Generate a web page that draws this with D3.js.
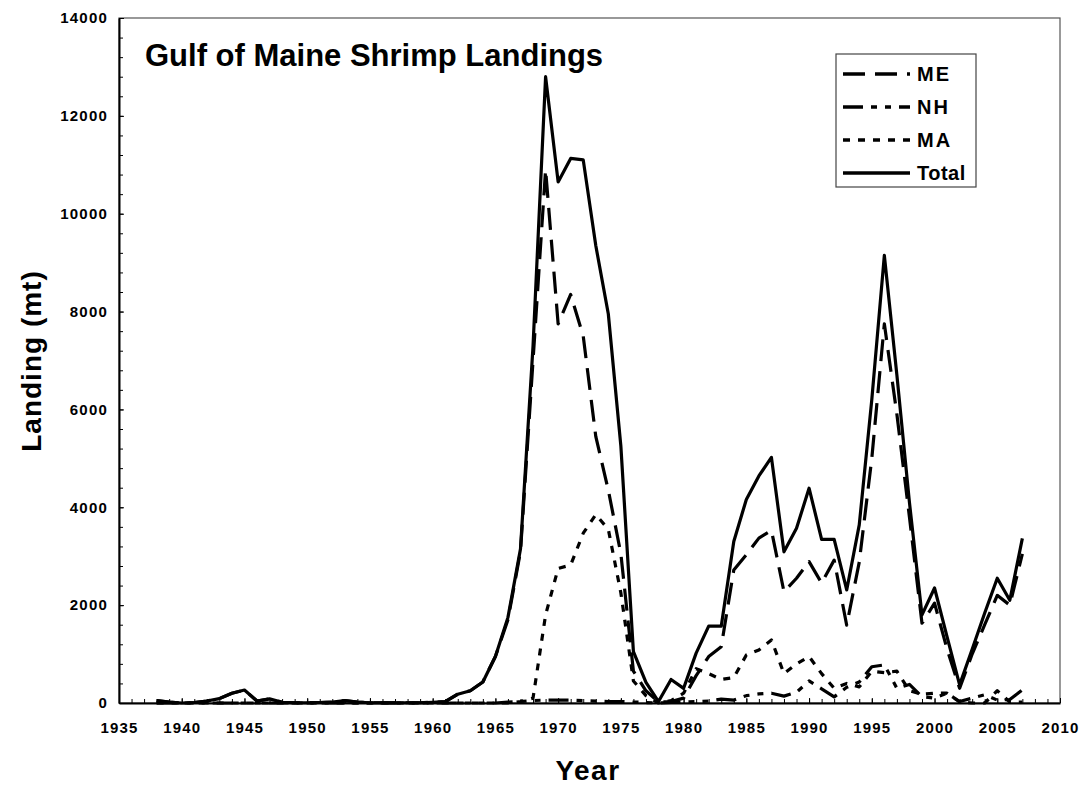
<!DOCTYPE html>
<html>
<head>
<meta charset="utf-8">
<script src="https://cdn.jsdelivr.net/npm/d3@7"></script>
<style>
  body { margin: 0; background: #fff; }
  svg { display: block; font-family: "Liberation Sans", Arial, sans-serif; }
</style>
</head>
<body>
<div id="chart"></div>
<script>
// landings in metric tons, 1938-2007
var years = [1938, 1939, 1940, 1941, 1942, 1943, 1944, 1945, 1946, 1947,
             1948, 1949, 1950, 1951, 1952, 1953, 1954, 1955, 1956, 1957,
             1958, 1959, 1960, 1961, 1962, 1963, 1964, 1965, 1966, 1967,
             1968, 1969, 1970, 1971, 1972, 1973, 1974, 1975, 1976, 1977,
             1978, 1979, 1980, 1981, 1982, 1983, 1984, 1985, 1986, 1987,
             1988, 1989, 1990, 1991, 1992, 1993, 1994, 1995, 1996, 1997,
             1998, 1999, 2000, 2001, 2002, 2003, 2004, 2005, 2006, 2007];

var me = [50, 20, 0, 10, 40, 90, 200, 265, 40, 85,
          15, 5, 5, 10, 20, 50, 20, 5, 5, 5,
          5, 5, 15, 30, 180, 250, 430, 950, 1700, 3100,
          7000, 10900, 7750, 8350, 7500, 5450, 4350, 3050, 650, 250,
          20, 30, 100, 560, 950, 1150, 2720, 3030, 3370, 3530,
          2275, 2550, 2890, 2450, 2920, 1590, 2880, 5000, 7750, 5900,
          3800, 1630, 2040, 1100, 300, 1000, 1600, 2200, 2000, 3050];

var nh = [0, 0, 0, 0, 0, 0, 0, 0, 0, 0,
          0, 0, 0, 0, 0, 0, 0, 0, 0, 0,
          0, 0, 0, 0, 0, 0, 0, 0, 20, 30,
          50, 60, 60, 60, 50, 40, 30, 30, 20, 10,
          0, 10, 20, 30, 40, 80, 60, 150, 185, 200,
          140, 220, 450, 290, 125, 320, 430, 740, 780, 300,
          380, 130, 100, 200, 30, 100, 170, 60, 70, 270];

var ma = [0, 0, 0, 0, 0, 0, 0, 0, 0, 0,
          0, 0, 0, 0, 0, 0, 0, 0, 0, 0,
          0, 0, 0, 0, 0, 0, 0, 0, 0, 30,
          100, 1800, 2750, 2820, 3470, 3850, 3550, 2250, 450, 150,
          0, 50, 200, 700, 600, 480, 520, 980, 1085, 1290,
          600, 800, 950, 600, 300, 400, 330, 650, 620, 650,
          250, 180, 200, 200, 20, 0, 0, 250, 20, 20];

var total = [50, 20, 0, 10, 40, 90, 200, 265, 40, 85,
             15, 5, 5, 10, 20, 50, 20, 5, 5, 5,
             5, 5, 15, 30, 180, 250, 430, 950, 1750, 3150,
             7300, 12800, 10650, 11130, 11100, 9350, 7950, 5250, 1050, 420,
             30, 480, 300, 1020, 1570, 1570, 3300, 4160, 4640, 5020,
             3090, 3570, 4390, 3345, 3345, 2310, 3640, 6200, 9150, 6700,
             4100, 1800, 2350, 1350, 370, 1100, 1840, 2550, 2100, 3365];

var seriesNames = ["ME", "NH", "MA", "Total"];
var yTicks = [0, 2000, 4000, 6000, 8000, 10000, 12000, 14000];
var xTicks = [1935, 1940, 1945, 1950, 1955, 1960, 1965, 1970, 1975, 1980, 1985, 1990, 1995, 2000, 2005, 2010];

function init() {
    var W = 1085, H = 788;
    var left = 119, right = 1060, top = 18, bottom = 703;

    var svg = d3.select("#chart").append("svg")
        .attr("width", W)
        .attr("height", H);

    var x = d3.scaleLinear().domain([1935, 2010]).range([left, right]);
    var y = d3.scaleLinear().domain([0, 14000]).range([bottom, top]);

    // frame
    svg.append("rect")
       .attr("x", left).attr("y", top)
       .attr("width", right - left).attr("height", bottom - top)
       .attr("fill", "none")
       .attr("stroke", "#555")
       .attr("stroke-width", 1.2);

    // minor ticks
    svg.append("g")
       .attr("transform", "translate(0," + bottom + ")")
       .call(d3.axisBottom(x).tickValues(d3.range(1935, 2011)).tickSize(-4).tickFormat(""))
       .call(function(g) { g.select(".domain").remove(); });

    svg.append("g")
       .attr("transform", "translate(" + left + ",0)")
       .call(d3.axisLeft(y).tickValues(d3.range(0, 14001, 400)).tickSize(-4).tickFormat(""))
       .call(function(g) { g.select(".domain").remove(); });

    // main axes
    var xAxis = svg.append("g")
       .attr("transform", "translate(0," + bottom + ")")
       .call(d3.axisBottom(x).tickValues(xTicks).tickSizeInner(-5).tickSizeOuter(0).tickPadding(19).tickFormat(d3.format("d")));

    var yAxis = svg.append("g")
       .attr("transform", "translate(" + left + ",0)")
       .call(d3.axisLeft(y).tickValues(yTicks).tickSizeInner(-5).tickSizeOuter(0).tickPadding(11).tickFormat(d3.format("d")));

    [xAxis, yAxis].forEach(function(g) {
        g.select(".domain").attr("stroke", "#000").attr("stroke-width", 2);
        g.selectAll(".tick line").attr("stroke", "#000").attr("stroke-width", 1);
        g.selectAll("text")
         .attr("fill", "#000")
         .style("font-family", "'Liberation Sans', Arial, sans-serif")
         .style("font-size", "15px")
         .style("font-weight", "bold")
         .style("letter-spacing", "1.2px");
    });

    // lines
    var styles = {
        "ME":    { data: me,    dash: "22,10" },
        "NH":    { data: nh,    dash: "20,8,6,8,6,8" },
        "MA":    { data: ma,    dash: "7,8" },
        "Total": { data: total, dash: null }
    };

    var line = d3.line()
        .x(function(d) { return x(d[0]); })
        .y(function(d) { return y(d[1]); });

    seriesNames.forEach(function(name) {
        var s = styles[name];
        svg.append("path")
           .datum(years.map(function(yr, i) { return [yr, s.data[i]]; }))
           .attr("d", line)
           .attr("fill", "none")
           .attr("stroke", "#000")
           .attr("stroke-width", 3.2)
           .attr("stroke-linejoin", "round")
           .attr("stroke-dasharray", s.dash);
    });

    // title
    svg.append("text")
       .attr("x", 145).attr("y", 66)
       .attr("font-size", 31)
       .attr("font-weight", "bold")
       .text("Gulf of Maine Shrimp Landings");

    // legend
    var lg = svg.append("g");
    lg.append("rect")
      .attr("x", 836).attr("y", 54)
      .attr("width", 140).attr("height", 133)
      .attr("fill", "#fff")
      .attr("stroke", "#444")
      .attr("stroke-width", 1.2);

    seriesNames.forEach(function(name, i) {
        var ly = 74 + i * 33;
        lg.append("line")
          .attr("x1", 843).attr("x2", 910)
          .attr("y1", ly).attr("y2", ly)
          .attr("stroke", "#000")
          .attr("stroke-width", 3.5)
          .attr("stroke-dasharray", styles[name].dash);
        lg.append("text")
          .attr("x", 917).attr("y", ly + 7)
          .attr("font-size", 20)
          .attr("font-weight", "bold")
          .style("letter-spacing", name == "Total" ? "0.5px" : "2px")
          .text(name);
    });

    // axis titles
    svg.append("text")
       .attr("transform", "translate(41,361) rotate(-90)")
       .attr("text-anchor", "middle")
       .attr("font-size", 28)
       .attr("font-weight", "bold")
       .style("letter-spacing", "1px")
       .text("Landing (mt)");

    svg.append("text")
       .attr("x", 588).attr("y", 780)
       .attr("text-anchor", "middle")
       .attr("font-size", 28)
       .attr("font-weight", "bold")
       .style("letter-spacing", "1.5px")
       .text("Year");
}

window.onload = init;
</script>
</body>
</html>
